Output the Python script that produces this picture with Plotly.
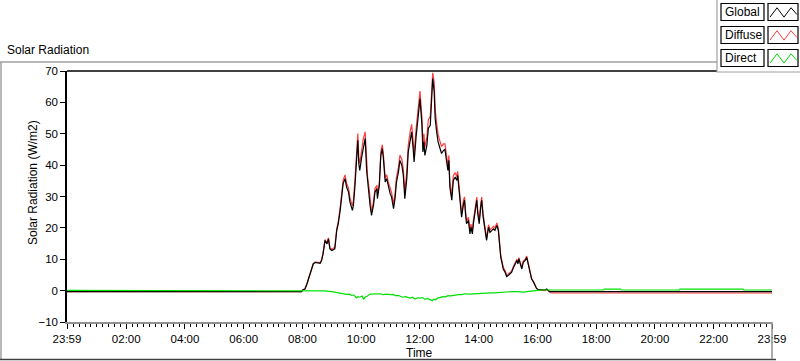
import plotly.graph_objects as go
import pandas as pd

# ---------------- data ----------------
# "*" marks the previous day (the axis starts at 23:59 of the day before)
day_times = [
    "23:59*", "07:58", "08:01", "08:05", "08:09", "08:15", "08:22", "08:26", "08:32", "08:36",
    "08:39", "08:42", "08:46", "08:50", "08:53", "08:56", "09:00", "09:06", "09:10", "09:13",
    "09:17", "09:20", "09:23", "09:27", "09:30", "09:34", "09:37", "09:42", "09:44", "09:47",
    "09:51", "09:53", "09:55", "09:57", "10:01", "10:04", "10:08", "10:11", "10:13", "10:16",
    "10:18", "10:21", "10:25", "10:28", "10:32", "10:33", "10:37", "10:40", "10:43", "10:45",
    "10:49", "10:52", "10:55", "10:59", "11:02", "11:06", "11:09", "11:12", "11:16", "11:19",
    "11:23", "11:26", "11:29", "11:33", "11:36", "11:40", "11:43", "11:46", "11:48", "11:52",
    "11:55", "11:57", "12:00", "12:04", "12:06", "12:08", "12:10", "12:14", "12:17", "12:21",
    "12:23", "12:25", "12:26", "12:29", "12:31", "12:34", "12:37", "12:41", "12:44", "12:48",
    "12:51", "12:55", "12:57", "12:59", "13:01", "13:05", "13:08", "13:12", "13:15", "13:17",
    "13:20", "13:22", "13:25", "13:29", "13:31", "13:33", "13:35", "13:39", "13:42", "13:44",
    "13:47", "13:49", "13:52", "13:56", "13:58", "14:01", "14:04", "14:06", "14:09", "14:13",
    "14:16", "14:20", "14:23", "14:27", "14:30", "14:33", "14:37", "14:40", "14:42", "14:45",
    "14:48", "14:50", "14:54", "14:57", "15:00", "15:04", "15:07", "15:11", "15:14", "15:18",
    "15:20", "15:22", "15:24", "15:28", "15:31", "15:35", "15:38", "15:41", "15:45", "15:48",
    "15:52", "15:55", "15:58", "16:02", "16:09", "16:15", "16:19", "16:22", "16:26", "16:30",
    "23:59",
]

global_vals = [
    -0.3, -0.3, 0.3, 0.5, 2.1, 5.3, 8.5, 9.0, 8.9, 8.7,
    9.6, 11.7, 16.0, 14.9, 16.5, 13.3, 12.8, 13.3, 19.2, 21.3,
    25.6, 29.8, 34.1, 35.7, 33.0, 31.4, 28.2, 25.6, 27.2, 33.0,
    45.8, 47.9, 40.5, 38.3, 42.6, 45.8, 48.5, 38.3, 34.6, 31.4,
    27.2, 24.0, 27.2, 31.4, 32.5, 29.3, 33.5, 43.1, 45.3, 42.6,
    34.6, 35.7, 33.5, 30.9, 29.8, 26.1, 29.3, 34.6, 37.8, 41.5,
    39.9, 36.7, 29.3, 35.7, 44.2, 48.5, 50.6, 45.3, 41.0, 49.0,
    53.8, 57.0, 61.2, 52.7, 44.2, 47.4, 43.1, 46.3, 51.7, 52.7,
    59.1, 65.5, 67.6, 63.4, 54.9, 50.6, 47.4, 45.3, 43.7, 44.7,
    45.0, 40.5, 38.3, 41.5, 33.0, 28.8, 35.1, 36.2, 35.1, 36.7,
    31.9, 29.8, 23.4, 27.7, 28.8, 24.5, 21.3, 22.4, 18.1, 20.2,
    18.1, 21.3, 24.5, 28.8, 24.5, 21.3, 26.6, 28.8, 23.4, 19.2,
    16.0, 20.2, 18.6, 19.2, 19.7, 19.2, 20.8, 19.2, 14.9, 10.6,
    8.5, 6.9, 5.8, 4.5, 4.8, 5.3, 5.8, 7.4, 8.5, 9.6,
    8.5, 10.1, 9.0, 6.9, 9.0, 9.6, 10.6, 8.5, 5.8, 3.7,
    2.7, 1.6, 0.7, 0.3, 0.2, 0.2, 0.5, 0.0, -0.3, -0.3,
    -0.3,
]

diffuse_vals = [
    -0.3, -0.3, 0.3, 0.5, 2.1, 5.3, 8.6, 9.1, 9.1, 8.9,
    9.8, 11.9, 16.3, 15.2, 16.8, 13.6, 13.2, 13.8, 19.8, 21.9,
    26.5, 30.8, 35.1, 36.9, 34.2, 32.7, 29.5, 27.0, 28.8, 35.0,
    48.0, 50.1, 42.6, 40.5, 44.8, 48.2, 50.6, 40.0, 36.2, 32.8,
    28.4, 25.1, 28.3, 32.5, 33.6, 30.4, 34.6, 44.3, 46.5, 43.8,
    35.8, 36.9, 34.7, 32.2, 31.2, 27.6, 30.8, 36.2, 39.4, 43.2,
    41.8, 38.7, 31.3, 37.8, 46.3, 50.8, 53.0, 47.7, 43.4, 51.5,
    56.3, 59.4, 63.6, 55.2, 46.8, 50.0, 45.7, 48.9, 54.4, 55.6,
    62.1, 68.5, 69.4, 66.3, 57.8, 53.4, 49.8, 47.5, 45.9, 46.8,
    46.8, 42.1, 39.9, 43.1, 34.6, 30.4, 36.6, 37.6, 36.4, 38.0,
    33.2, 31.1, 24.6, 28.9, 29.9, 25.5, 22.3, 23.4, 19.1, 21.2,
    19.1, 22.3, 25.5, 29.8, 25.5, 22.3, 27.6, 29.8, 24.3, 20.1,
    16.8, 21.0, 19.4, 20.0, 20.5, 20.0, 21.6, 20.0, 15.6, 11.2,
    9.0, 7.4, 6.3, 5.0, 5.2, 5.7, 6.2, 7.8, 8.9, 10.0,
    8.9, 10.5, 9.4, 7.3, 9.4, 10.0, 11.0, 8.8, 6.0, 3.8,
    2.8, 1.6, 0.7, 0.3, 0.1, 0.0, 0.3, -0.2, -0.6, -0.75,
    -0.75,
]

direct_times = [
    "23:59*", "07:58", "08:10", "08:30", "08:45", "09:00", "09:08", "09:15", "09:22", "09:30",
    "09:36", "09:40", "09:45", "09:50", "09:53", "09:57", "10:02", "10:05", "10:08", "10:12",
    "10:18", "10:24", "10:30", "10:38", "10:45", "10:52", "11:00", "11:05", "11:10", "11:15",
    "11:20", "11:25", "11:30", "11:35", "11:40", "11:45", "11:50", "11:55", "12:00", "12:05",
    "12:10", "12:15", "12:20", "12:25", "12:28", "12:32", "12:36", "12:42", "12:47", "12:52",
    "12:57", "13:03", "13:10", "13:18", "13:25", "13:32", "13:40", "13:48", "13:55", "14:02",
    "14:10", "14:18", "14:25", "14:32", "14:40", "14:48", "14:55", "15:02", "15:10", "15:18",
    "15:25", "15:32", "15:38", "15:45", "15:52", "16:00", "16:10", "16:30", "18:15", "18:16",
    "18:50", "18:51", "20:50", "20:51", "21:55", "21:56", "22:15", "22:16", "23:00", "23:01",
    "23:59",
]

direct_vals = [
    0.1, 0.1, 0.1, 0.0, -0.1, -0.3, -0.5, -0.8, -0.9, -1.2,
    -1.1, -1.5, -1.4, -2.3, -1.9, -2.1, -1.7, -2.8, -2.0, -1.8,
    -1.1, -1.0, -0.9, -1.0, -1.3, -1.1, -1.3, -1.2, -1.6, -1.5,
    -1.8, -2.1, -1.9, -2.2, -2.4, -2.1, -2.7, -2.3, -2.4, -2.2,
    -2.8, -2.5, -2.9, -3.2, -2.7, -2.9, -2.4, -2.2, -1.9, -2.0,
    -1.6, -1.7, -1.4, -1.3, -1.3, -1.0, -1.1, -1.0, -0.9, -1.0,
    -0.8, -0.8, -0.7, -0.7, -0.6, -0.5, -0.3, -0.3, -0.3, -0.3,
    -0.5, -0.5, -0.3, -0.1, 0.0, 0.1, 0.2, 0.2, 0.2, 0.5,
    0.5, 0.2, 0.2, 0.5, 0.5, 0.7, 0.7, 0.5, 0.5, 0.2,
    0.2,
]

tick_labels = ["23:59", "02:00", "04:00", "06:00", "08:00", "10:00", "12:00",
               "14:00", "16:00", "18:00", "20:00", "22:00", "23:59"]
series_names = ["Global", "Diffuse", "Direct"]
series_colors = ["#000000", "#ff3c3c", "#00e000"]

DAY = "2024-01-02"
PREV = "2024-01-01"


def to_dt(t):
    if t.endswith("*"):
        return pd.Timestamp(f"{PREV} {t[:-1]}")
    return pd.Timestamp(f"{DAY} {t}")


x_day = [to_dt(t) for t in day_times]
x_dir = [to_dt(t) for t in direct_times]
tick_vals = [to_dt("23:59*")] + [to_dt(t) for t in tick_labels[1:-1]] + [to_dt("23:59")]

# ---------------- figure ----------------
fig = go.Figure()
fig.add_trace(go.Scatter(x=x_day, y=diffuse_vals, mode="lines", name=series_names[1],
                         line=dict(color=series_colors[1], width=1.2)))
fig.add_trace(go.Scatter(x=x_day, y=global_vals, mode="lines", name=series_names[0],
                         line=dict(color=series_colors[0], width=1.2)))
fig.add_trace(go.Scatter(x=x_dir, y=direct_vals, mode="lines", name=series_names[2],
                         line=dict(color=series_colors[2], width=1.2)))

L, R, T, B = 67, 772, 71, 322
W, H = 800, 361


def px(xp):
    return (xp - L) / (R - L)


def py(yp):
    return (B - yp) / (B - T)


FONT = "Liberation Sans, Arial, sans-serif"

shapes = []
annotations = []

# outer panel frame
shapes.append(dict(type="line", xref="paper", yref="paper", x0=px(0), x1=px(720),
                   y0=py(62), y1=py(62), line=dict(color="#a0a0a0", width=1.5)))
shapes.append(dict(type="line", xref="paper", yref="paper", x0=px(1), x1=px(1),
                   y0=py(62), y1=py(360), line=dict(color="#a0a0a0", width=1.5)))
shapes.append(dict(type="line", xref="paper", yref="paper", x0=px(0), x1=px(776),
                   y0=py(359.5), y1=py(359.5), line=dict(color="#404040", width=1.5)))
# plot frame: top black, right gray
shapes.append(dict(type="line", xref="paper", yref="paper", x0=0, x1=1, y0=1, y1=1,
                   line=dict(color="black", width=1.5)))
shapes.append(dict(type="line", xref="paper", yref="paper", x0=1, x1=1, y0=0, y1=py(359),
                   line=dict(color="#909090", width=1.5)))

# custom legend panel
shapes.append(dict(type="rect", xref="paper", yref="paper", x0=px(717), x1=px(801),
                   y0=py(72), y1=py(-2), fillcolor="white",
                   line=dict(color="#a0a0a0", width=1.2), layer="above"))
rows = [(3.5, 20.5), (26.5, 43.5), (49.5, 66.5)]
zig = [(770, 0.8), (777, 0.25), (784, 0.8), (791, 0.25), (797, 0.65)]
for (y0, y1), name, col in zip(rows, series_names, series_colors):
    shapes.append(dict(type="rect", xref="paper", yref="paper", x0=px(721), x1=px(764),
                       y0=py(y1), y1=py(y0), line=dict(color="black", width=1.2),
                       fillcolor="white", layer="above"))
    shapes.append(dict(type="rect", xref="paper", yref="paper", x0=px(768), x1=px(798),
                       y0=py(y1), y1=py(y0), line=dict(color="black", width=1.2),
                       fillcolor="white", layer="above"))
    hh = y1 - y0
    path = "M " + " L ".join(f"{px(a)},{py(y0 + f * hh)}" for a, f in zig)
    shapes.append(dict(type="path", xref="paper", yref="paper", path=path,
                       line=dict(color=col, width=1), layer="above"))
    annotations.append(dict(xref="paper", yref="paper", x=px(723), y=py((y0 + y1) / 2),
                            xanchor="left", yanchor="middle", text=name, showarrow=False,
                            font=dict(family=FONT, size=12, color="black")))

# titles
annotations.append(dict(xref="paper", yref="paper", x=px(5), y=py(50), xanchor="left",
                        yanchor="middle", text="Solar Radiation", showarrow=False,
                        font=dict(family=FONT, size=12, color="black")))
annotations.append(dict(xref="paper", yref="paper", x=px(33), y=py(183), xanchor="center",
                        yanchor="middle", text="Solar Radiation (W/m2)", textangle=-90,
                        showarrow=False, font=dict(family=FONT, size=12, color="black")))
annotations.append(dict(xref="paper", yref="paper", x=px(419), y=py(353), xanchor="center",
                        yanchor="middle", text="Time", showarrow=False,
                        font=dict(family=FONT, size=12, color="black")))

fig.update_layout(
    width=W, height=H,
    margin=dict(l=L, r=W - R, t=T, b=H - B, pad=0),
    paper_bgcolor="white", plot_bgcolor="white",
    showlegend=False,
    shapes=shapes, annotations=annotations,
    font=dict(family=FONT, size=12, color="black"),
)
fig.update_xaxes(
    type="date",
    range=[tick_vals[0], tick_vals[-1]],
    tickmode="array", tickvals=tick_vals, ticktext=tick_labels,
    ticks="outside", ticklen=5, tickwidth=1, tickcolor="black",
    showline=True, linecolor="#909090", linewidth=1.5,
    showgrid=False, zeroline=False,
    tickfont=dict(family=FONT, size=11.5, color="black"),
    minor=dict(tickmode="linear", tick0=f"{DAY} 00:00", dtick=12 * 60 * 1000,
               ticks="outside", ticklen=3, tickcolor="black", tickwidth=1, showgrid=False),
)
fig.update_yaxes(
    range=[-10, 70], tickmode="linear", tick0=-10, dtick=10,
    ticks="outside", ticklen=5, tickwidth=1, tickcolor="black",
    showline=True, linecolor="black", linewidth=1.5,
    showgrid=False, zeroline=False,
    tickfont=dict(family=FONT, size=11.5, color="black"),
)

fig.write_html("out.html", config={"displayModeBar": False},
               post_script="document.body.style.margin='0';document.body.style.padding='0';")
